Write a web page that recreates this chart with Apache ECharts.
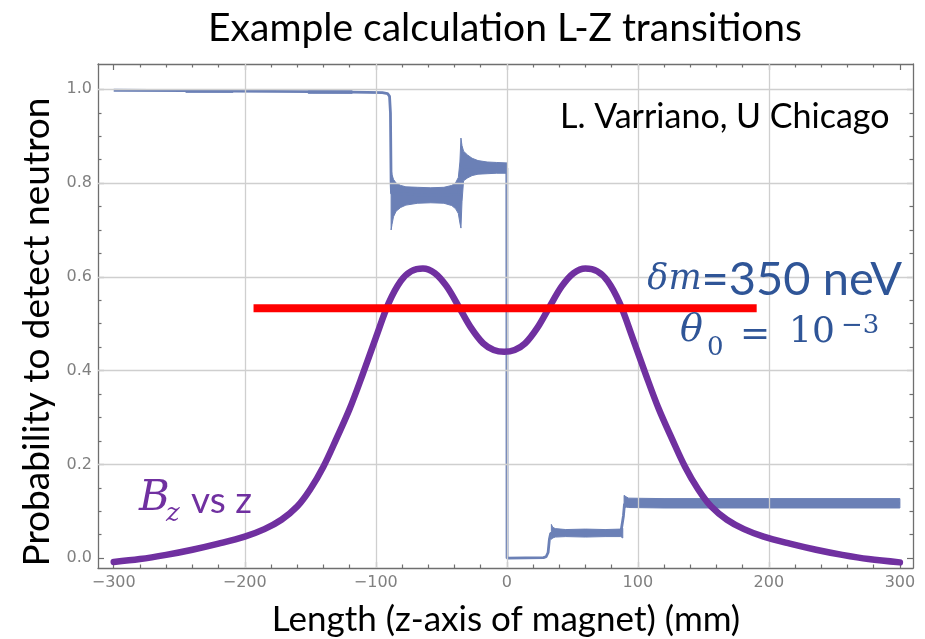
<!DOCTYPE html>
<html><head><meta charset="utf-8">
<script src="https://cdn.jsdelivr.net/npm/echarts@6/dist/echarts.min.js"></script>
<style>html,body{margin:0;padding:0;background:#fff}#c{width:925px;height:639px}</style>
</head><body><div id="c"></div>
<script>
// ---- axis ticks ----
const xMajor = [-300, -200, -100, 0, 100, 200, 300];
const xMinor = [-280, -260, -240, -220, -180, -160, -140, -120, -80, -60, -40, -20, 20, 40, 60, 80, 120, 140, 160, 180, 220, 240, 260, 280];
const yMajor = [0, 0.2, 0.4, 0.6, 0.8, 1.0];
const yMinor = [0.05, 0.1, 0.15, 0.25, 0.3, 0.35, 0.45, 0.5, 0.55, 0.65, 0.7, 0.75, 0.85, 0.9, 0.95];
const gridX = [-200, -100, 0, 100, 200];
const gridY = [0.2, 0.4, 0.6, 0.8, 1.0];
const X_MIN = -312, X_MAX = 310, Y_MIN = -0.021, Y_MAX = 1.054;

// ---- Bz vs z (purple) ----
const bz = [[-300,-0.008],[-280,-0.002],[-260,0.007],[-240,0.018],[-220,0.031],[-200,0.046],[-185,0.062],[-172,0.082],[-160,0.110],[-150,0.147],[-140,0.195],[-130,0.255],[-120,0.318],[-110,0.392],[-100,0.470],[-90,0.545],[-81,0.591],[-73,0.612],[-64,0.618],[-55,0.608],[-46,0.580],[-36,0.533],[-27,0.490],[-18,0.458],[-10,0.444],[-2,0.440],
[6,0.444],[14,0.458],[23,0.490],[32,0.533],[42,0.580],[51,0.608],[60,0.618],[69,0.612],[77,0.591],[86,0.545],[96,0.470],[106,0.392],[116,0.318],[126,0.255],[136,0.195],[146,0.147],[156,0.110],[168,0.082],[181,0.062],[196,0.046],[216,0.031],[236,0.018],[256,0.007],[276,-0.002],[300,-0.009]];

// ---- probability (blue) centre line ----
const prob = [[-300,0.998],[-245,0.997],[-210,0.996],[-150,0.995],[-118,0.994],[-95,0.993],[-91,0.991],[-89.5,0.985],[-88.8,0.95],[-88.3,0.80],[-88,0.778],[-60,0.774],[-37,0.776],[-35,0.80],[-34,0.835],[-30,0.834],[0,0.832],[0.2,0.0],[28,0.001],[30,0.003],[31.5,0.012],[32.5,0.04],[33.5,0.053],[36,0.054],[87,0.054],[88.3,0.058],[89,0.09],[89.8,0.115],[91,0.119],[100,0.117],[300,0.117]];

// ---- oscillation envelopes: [z, lower, upper] ----
const bandT1 = [[-245,0.9936,0.999],[-209,0.9936,0.999]];
const bandT2 = [[-151.6,0.9915,0.997],[-118,0.9915,0.997]];
const bandA = [[-88.3,0.700,0.830],[-87.6,0.712,0.818],[-86.5,0.728,0.808],[-84.5,0.740,0.800],[-81,0.748,0.795],[-77,0.753,0.792],[-68,0.757,0.791],[-58,0.758,0.790],[-48,0.757,0.791],[-42,0.752,0.795],[-39,0.745,0.801],[-37,0.735,0.812],[-35.8,0.715,0.845],[-35,0.704,0.896],[-34.2,0.760,0.880],[-33,0.805,0.868],[-30,0.811,0.860],[-26.5,0.816,0.853],[-22,0.819,0.848],[-15,0.820,0.845],[-8,0.821,0.844],[0.3,0.821,0.843]];
const bandB = [[34,0.040,0.072],[35,0.043,0.066],[37,0.045,0.063],[45,0.046,0.061],[60,0.045,0.062],[75,0.046,0.061],[87,0.046,0.062],[88.5,0.043,0.064]];
const bandC = [[89.5,0.107,0.134],[91,0.109,0.131],[93,0.108,0.128],[120,0.107,0.127],[200,0.107,0.127],[300,0.107,0.127]];
const bands = [bandT1, bandT2, bandA, bandB, bandC];

// ---- red level line ----
const redLine = [[-193.3,0.533],[190.7,0.533]];

const BLUE = '#6b80b6', PURPLE = '#7030a0', TXTBLUE = '#2f5597';
const AX = '#6f6f6f';

function xAx(pos, vals, len, labels, line) {
  return {type:'value', min:X_MIN, max:X_MAX, position:pos,
    axisLine:{show:line, onZero:false, lineStyle:{color:AX, width:1.3}},
    axisTick:{show:true, inside:true, length:len, customValues:vals, lineStyle:{color:AX, width:1.2}},
    axisLabel:{show:labels, customValues:vals, margin:7, color:'#808080', fontSize:16, fontFamily:'DejaVu Sans',
      formatter:v => v < 0 ? '\u2212' + (-v) : String(v)},
    splitLine:{show:false}};
}
function yAx(pos, vals, len, labels, line) {
  return {type:'value', min:Y_MIN, max:Y_MAX, position:pos,
    axisLine:{show:line, onZero:false, lineStyle:{color:AX, width:1.3}},
    axisTick:{show:true, inside:true, length:len, customValues:vals, lineStyle:{color:AX, width:1.2}},
    axisLabel:{show:labels, customValues:vals, margin:6, color:'#808080', fontSize:16, fontFamily:'DejaVu Sans',
      formatter:v => v.toFixed(1)},
    splitLine:{show:false}};
}

const chart = echarts.init(document.getElementById('c'), null, {renderer:'canvas'});
chart.setOption({
  animation:false,
  backgroundColor:'#fff',
  grid:{left:98, right:12, top:64, bottom:71},
  xAxis:[xAx('bottom', xMajor, 6, true, true), xAx('bottom', xMinor, 3.5, false, false),
         xAx('top', xMajor, 6, false, true), xAx('top', xMinor, 3.5, false, false)],
  yAxis:[yAx('left', yMajor, 6, true, true), yAx('left', yMinor, 3.5, false, false),
         yAx('right', yMajor, 6, false, true), yAx('right', yMinor, 3.5, false, false)],
  series:[
    {type:'line', data:[], silent:true, xAxisIndex:0, yAxisIndex:0,
     markLine:{silent:true, symbol:'none', label:{show:false}, animation:false,
       lineStyle:{color:'#cfcfcf', width:1.3, type:'solid'},
       data: gridX.map(v => ({xAxis:v})).concat(gridY.map(v => ({yAxis:v})))}},
    {type:'custom', xAxisIndex:0, yAxisIndex:0, clip:true, silent:true, z:3,
     data: bands.map((b, i) => [i]),
     renderItem:(params, api) => {
       const b = bands[params.dataIndex];
       const pts = [];
       b.forEach(p => pts.push(api.coord([p[0], p[2]])));
       for (let i = b.length - 1; i >= 0; i--) pts.push(api.coord([b[i][0], b[i][1]]));
       return {type:'polygon', shape:{points:pts}, style:{fill:BLUE, stroke:BLUE, lineWidth:1}};
     }},
    {type:'line', data:prob, xAxisIndex:0, yAxisIndex:0, symbol:'none', silent:true, z:4,
     lineStyle:{color:BLUE, width:2.8}},
    {type:'line', data:bz, xAxisIndex:0, yAxisIndex:0, symbol:'none', smooth:0.35, silent:true, z:5,
     lineStyle:{color:PURPLE, width:6.5, cap:'round', join:'round'}},
    {type:'line', data:redLine, xAxisIndex:0, yAxisIndex:0, symbol:'none', silent:true, z:6,
     lineStyle:{color:'#ff0000', width:8, cap:'butt'}}
  ],
  graphic:[
    {type:'text', x:505, y:28, z:10, style:{text:'Example calculation L-Z transitions', font:'39px Lato', fill:'#000', align:'center', verticalAlign:'middle'}},
    {type:'text', x:37, y:332, rotation:Math.PI/2, z:10, style:{text:'Probability to detect neutron', font:'37px Lato', fill:'#000', align:'center', verticalAlign:'middle'}},
    {type:'text', x:506, y:620, z:10, style:{text:'Length (z-axis of magnet) (mm)', font:'35px Lato', fill:'#000', align:'center', verticalAlign:'middle'}},
    {type:'text', x:560, y:117, z:10, style:{text:'L. Varriano, U Chicago', font:'34px Lato', fill:'#000', align:'left', verticalAlign:'middle'}},
    {type:'text', x:902, y:280, z:10, style:{text:'{i|\u03b4m}{n|=350 neV}', align:'right', verticalAlign:'middle',
      rich:{i:{font:'italic 35px "DejaVu Serif"', fill:TXTBLUE}, n:{font:'47px Lato', fill:TXTBLUE}}}},
    {type:'text', x:680, y:331, z:10, style:{text:'\u03b8', font:'italic 38px "DejaVu Serif"', fill:TXTBLUE, align:'left', verticalAlign:'middle'}},
    {type:'text', x:707, y:348, z:10, style:{text:'0', font:'26px "DejaVu Serif"', fill:TXTBLUE, align:'left', verticalAlign:'middle'}},
    {type:'text', x:740, y:336, z:10, style:{text:'=', font:'36px "DejaVu Serif"', fill:TXTBLUE, align:'left', verticalAlign:'middle'}},
    {type:'text', x:789, y:333, z:10, style:{text:'10', font:'36px "DejaVu Serif"', fill:TXTBLUE, align:'left', verticalAlign:'middle'}},
    {type:'text', x:841, y:326, z:10, style:{text:'\u22123', font:'26px "DejaVu Serif"', fill:TXTBLUE, align:'left', verticalAlign:'middle'}},
    {type:'text', x:139, y:499, z:10, style:{text:'B', font:'italic 42px "DejaVu Serif"', fill:PURPLE, align:'left', verticalAlign:'middle'}},
    {type:'text', x:166, y:514, z:10, style:{text:'z', font:'italic 26px "DejaVu Serif"', fill:PURPLE, align:'left', verticalAlign:'middle'}},
    {type:'text', x:191, y:501, z:10, style:{text:'vs z', font:'37px Lato', fill:PURPLE, align:'left', verticalAlign:'middle'}}
  ]
});
</script></body></html>
